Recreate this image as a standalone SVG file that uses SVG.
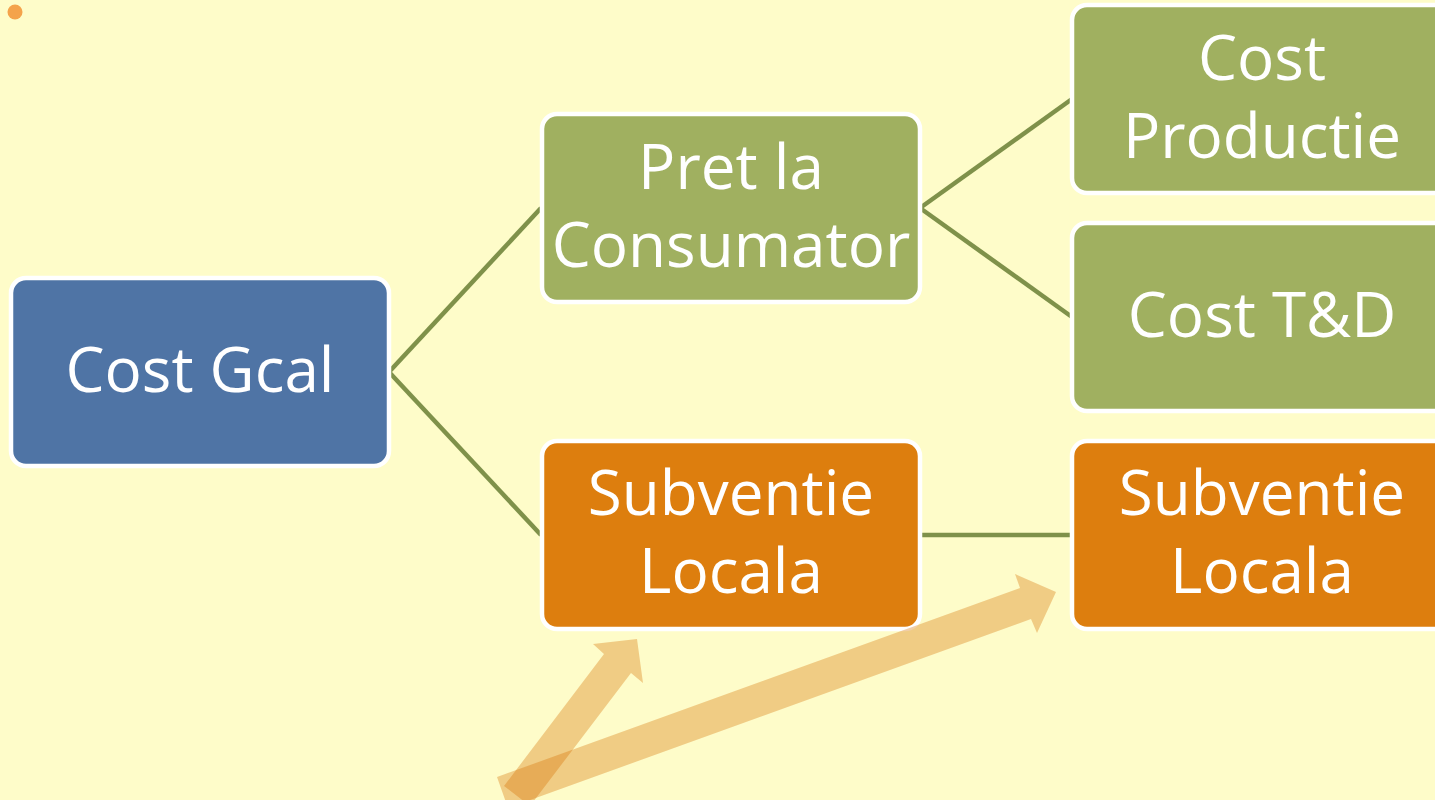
<svg xmlns="http://www.w3.org/2000/svg" width="1435" height="800" viewBox="0 0 1435 800">
<style>
.box{stroke:#FFFFFF;stroke-width:4.5}
.blue{fill:#4F74A5}
.green{fill:#A0B060}
.orange{fill:#DD7E0E}
.lbl{font-family:"Open Sans","Noto Sans",sans-serif;font-size:62px;fill:#FFFFFF;text-anchor:middle}
.conn{stroke:#7F914A;stroke-width:4.5;fill:none}
.arrow{fill:#D66E00;fill-opacity:0.34}
</style>
<rect x="0" y="0" width="1435" height="800" fill="#FEFCC9"/>
<circle cx="15" cy="12" r="7.5" fill="#F4A34B"/>
<g id="connectors">
<line class="conn" x1="389" y1="372" x2="541" y2="208"/>
<line class="conn" x1="389" y1="372" x2="541" y2="535"/>
<line class="conn" x1="920" y1="208" x2="1072" y2="99"/>
<line class="conn" x1="920" y1="208" x2="1072" y2="317"/>
<line class="conn" x1="920" y1="535" x2="1072" y2="535"/>
</g>
<g id="node-cost-gcal">
<rect class="box blue" x="11" y="278" width="378" height="188" rx="15"/>
<text class="lbl" x="200" y="392">Cost Gcal</text>
</g>
<g id="node-pret-consumator">
<rect class="box green" x="542" y="114" width="378" height="188" rx="15"/>
<text class="lbl" x="731" y="189">Pret la</text>
<text class="lbl" x="731" y="267">Consumator</text>
</g>
<g id="node-subventie-locala-1">
<rect class="box orange" x="542" y="441" width="378" height="188" rx="15"/>
<text class="lbl" x="731" y="515">Subventie</text>
<text class="lbl" x="731" y="593">Locala</text>
</g>
<g id="node-cost-productie">
<rect class="box green" x="1072" y="5" width="380" height="188" rx="15"/>
<text class="lbl" x="1262" y="80">Cost</text>
<text class="lbl" x="1262" y="158">Productie</text>
</g>
<g id="node-cost-td">
<rect class="box green" x="1072" y="223" width="380" height="188" rx="15"/>
<text class="lbl" x="1262" y="337">Cost T&amp;D</text>
</g>
<g id="node-subventie-locala-2">
<rect class="box orange" x="1072" y="441" width="380" height="188" rx="15"/>
<text class="lbl" x="1262" y="515">Subventie</text>
<text class="lbl" x="1262" y="593">Locala</text>
</g>
<g id="block-arrows">
<polygon class="arrow" points="504,786 604,654 593,644 637,639 643,683 631,673 530,806"/>
<polygon class="arrow" points="497,777 1020,588 1015,574 1056,592 1037,633 1031,619 508,808"/>
</g>
</svg>
